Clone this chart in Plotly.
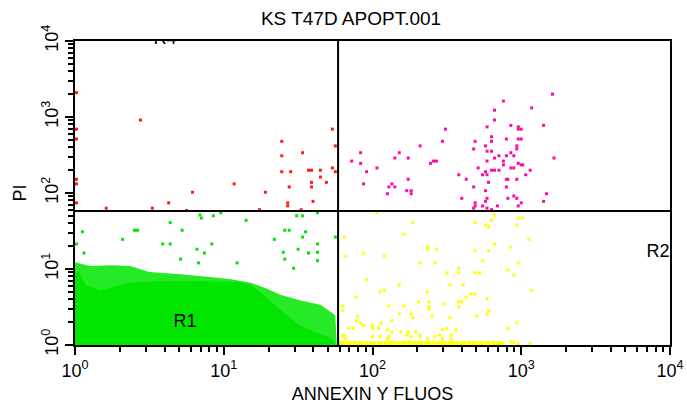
import numpy as np
import plotly.graph_objects as go

# ---- data (in decades: value = 10**d) ----
title_text = "KS T47D APOPT.001"
x_title = "ANNEXIN Y FLUOS"
y_title = "PI"
tick_vals = [1, 10, 100, 1000, 10000]
tick_text = ["10<sup>0</sup>", "10<sup>1</sup>", "10<sup>2</sup>", "10<sup>3</sup>", "10<sup>4</sup>"]
minor_vals = [m * d for d in (1, 10, 100, 1000) for m in range(2, 10)]

gate_annexin = 58.7
gate_pi = 57.9

# dense green population outline (R1), decades
dense_x = [0, 0, 0.03, 0.07, 0.17, 0.30, 0.37, 0.57, 0.84, 1.11, 1.18, 1.24, 1.31, 1.38, 1.45, 1.51, 1.61, 1.72, 1.75, 1.75]
dense_y = [0, 0.96, 0.96, 0.79, 0.72, 0.79, 0.82, 0.84, 0.84, 0.83, 0.79, 0.70, 0.59, 0.46, 0.36, 0.26, 0.17, 0.09, 0.03, 0]
# sparser fringe around it
fringe_x = [0, 0, 0.10, 0.24, 0.37, 0.50, 0.71, 0.84, 1.04, 1.18, 1.28, 1.38, 1.51, 1.65, 1.75, 1.76]
fringe_y = [0, 1.09, 1.04, 1.05, 1.04, 0.96, 0.93, 0.91, 0.87, 0.82, 0.75, 0.66, 0.59, 0.53, 0.39, 0]

green_x = [0.05, 0.01, 0.06, 0.40, 0.42, 0.32, 0.64, 0.72, 0.59, 0.64, 0.85, 1.15, 0.82, 0.87, 0.71, 0.83, 1.09, 0.92,
           1.34, 1.41, 1.44, 1.55, 1.53, 1.50, 1.40, 1.41, 1.63, 1.63, 1.63, 1.47, 1.57, 1.75, 0.98, 0.84, 0.93, 1.49, 1.53, 1.63]
green_y = [1.49, 1.33, 1.21, 1.51, 1.51, 1.39, 1.61, 1.51, 1.33, 1.33, 1.67, 1.64, 1.26, 1.21, 1.13, 1.08, 1.08, 1.33,
           1.39, 1.51, 1.51, 1.49, 1.42, 1.26, 1.22, 1.13, 1.33, 1.22, 1.11, 1.01, 1.21, 1.42, 1.74, 1.71, 1.70, 1.70, 1.70, 1.74]

red_x = [0.01, 0.44, 0.01, 0.01, 1.73, 1.75, 1.39, 1.53, 1.39, 1.39, 1.45, 1.57, 1.59, 1.65, 1.73, 1.75, 1.65, 1.69,
         1.59, 1.59, 1.44, 1.28, 1.07, 0.79, 0.63, 0.52, 0.21, 0.01, 0.01, 0.01, 1.43, 1.43, 1.60, 1.52, 1.24, 0.75]
red_y = [3.32, 2.96, 2.84, 2.71, 2.84, 2.62, 2.68, 2.53, 2.49, 2.28, 2.28, 2.30, 2.30, 2.30, 2.33, 2.28, 2.21, 2.14,
         2.14, 2.08, 2.08, 2.01, 2.12, 2.01, 1.87, 1.80, 1.80, 2.18, 2.12, 1.87, 1.87, 1.83, 1.89, 1.78, 1.78, 1.77]

mag_x = [3.21, 2.88, 3.07, 2.82, 2.82, 3.15, 2.93, 2.98, 3.00, 2.98, 2.77, 2.49, 2.90, 2.98, 3.00, 2.80, 2.80, 2.69,
         2.47, 2.97, 2.97, 2.76, 2.68, 2.77, 2.80, 2.32, 2.18, 1.92, 2.93, 2.95, 2.85, 2.90, 2.82, 2.77, 2.88, 2.24,
         2.15, 1.86, 1.92, 2.41, 2.43, 2.39, 2.98, 3.00, 3.01, 3.22, 2.88, 2.71, 2.93, 2.95, 2.03, 1.96, 2.80, 2.82,
         2.85, 3.06, 2.76, 2.74, 2.77, 2.58, 3.03, 2.63, 2.90, 2.91, 2.97, 2.78, 2.24, 1.94, 2.13, 2.11, 2.15, 2.68,
         2.90, 2.23, 2.26, 2.26, 2.10, 2.76, 3.17, 2.95, 2.97, 2.91, 2.76, 2.77, 2.60, 3.15, 3.00, 2.98, 2.69, 2.69,
         2.68, 2.74, 2.77, 2.84, 2.80]
mag_y = [3.30, 3.21, 3.12, 3.09, 2.96, 2.89, 2.89, 2.87, 2.84, 2.84, 2.87, 2.84, 2.71, 2.71, 2.71, 2.74, 2.68, 2.68,
         2.68, 2.62, 2.58, 2.62, 2.58, 2.55, 2.55, 2.62, 2.53, 2.53, 2.53, 2.49, 2.49, 2.49, 2.46, 2.42, 2.42, 2.46,
         2.46, 2.42, 2.39, 2.42, 2.42, 2.39, 2.39, 2.37, 2.37, 2.46, 2.37, 2.33, 2.33, 2.33, 2.33, 2.28, 2.30, 2.30,
         2.30, 2.30, 2.28, 2.24, 2.24, 2.24, 2.24, 2.18, 2.18, 2.18, 2.18, 2.14, 2.18, 2.12, 2.12, 2.08, 2.08, 2.08,
         2.08, 2.03, 2.03, 1.99, 1.99, 2.03, 1.99, 1.96, 1.93, 1.93, 1.89, 1.93, 1.93, 1.89, 1.87, 1.83, 1.87, 1.83,
         1.80, 1.83, 1.80, 1.83, 1.78]

yel_x = [2.03, 2.27, 2.69, 2.76, 2.78, 2.80, 2.82, 2.98, 3.01, 2.97, 2.21, 1.81, 3.05, 2.82, 2.93, 2.37, 2.37, 2.43,
         1.94, 2.08, 1.82, 2.69, 2.78, 2.74, 2.32, 2.42, 2.98, 2.58, 2.58, 2.50, 2.69, 2.72, 2.91, 2.95, 1.96, 2.18,
         2.52, 2.61, 2.05, 2.08, 2.37, 3.07, 1.89, 2.66, 2.69, 2.63, 2.77, 2.31, 2.38, 2.38, 2.38, 2.58, 2.60, 2.58,
         2.48, 2.11, 2.21, 1.80, 1.80, 2.18, 2.26, 2.77, 2.78, 2.70, 1.90, 2.40, 2.27, 2.52, 1.89, 1.92, 1.94, 2.13,
         2.06, 2.97, 1.84, 1.87, 2.00, 2.00, 2.04, 2.50, 2.47, 2.91, 2.56, 2.10, 2.13, 2.19, 2.23, 2.24, 2.26, 2.29,
         2.32, 2.32, 2.42, 2.45, 2.47, 2.53, 2.53, 2.00, 2.05, 2.11, 2.10, 1.80, 1.81, 1.82, 2.37, 2.14, 2.21, 2.25,
         2.93, 2.95, 2.98, 3.06, 2.88]
yel_y = [1.74, 1.61, 1.61, 1.58, 1.55, 1.64, 1.71, 1.67, 1.67, 1.58, 1.46, 1.42, 1.39, 1.33, 1.29, 1.29, 1.26, 1.26,
         1.21, 1.17, 1.17, 1.24, 1.24, 1.11, 1.08, 1.08, 1.08, 1.01, 0.95, 0.95, 0.95, 0.95, 0.99, 0.92, 0.86, 0.79,
         0.79, 0.79, 0.70, 0.72, 0.70, 0.72, 0.63, 0.67, 0.67, 0.63, 0.61, 0.57, 0.57, 0.50, 0.47, 0.57, 0.57, 0.50,
         0.54, 0.51, 0.51, 0.51, 0.45, 0.41, 0.41, 0.41, 0.45, 0.38, 0.38, 0.38, 0.36, 0.36, 0.32, 0.29, 0.26, 0.32,
         0.29, 0.29, 0.22, 0.22, 0.26, 0.22, 0.22, 0.22, 0.20, 0.22, 0.20, 0.20, 0.17, 0.17, 0.13, 0.17, 0.11, 0.17,
         0.13, 0.11, 0.11, 0.13, 0.08, 0.13, 0.08, 0.11, 0.11, 0.11, 0.08, 0.13, 0.11, 0.08, 0.08, 0.04, 0.04, 0.04,
         0.04, 0.03, 0.02, 0.02, 0.02]
# events piled on the PI floor channel
floor_x = [1.78, 1.80, 1.83, 1.85, 1.88, 1.91, 1.93, 1.96, 1.99, 2.01, 2.04, 2.06, 2.09, 2.12, 2.14, 2.17, 2.20,
           2.22, 2.25, 2.28, 2.30, 2.33, 2.36, 2.38, 2.41, 2.44, 2.46, 2.49, 2.52, 2.54, 2.57, 2.60, 2.62, 2.65,
           2.68, 2.70, 2.73, 2.76, 2.78, 2.81, 2.84, 2.86]
floor_y = [0.025] * len(floor_x)

label_text = ["R4", "R1", "R2"]
label_x = [0.605, 0.74, 3.92]
label_y = [4.02, 0.30, 1.22]

GREEN = "#00e600"
YELLOW = "#ffff00"
RED = "#ff1a1a"
MAGENTA = "#ff0aa5"
FONT = "Liberation Sans, Arial"


def dec(v):
    return np.power(10.0, np.asarray(v, dtype=float))


fig = go.Figure()
fig.add_trace(go.Scatter(x=dec(fringe_x), y=dec(fringe_y), mode="lines", fill="toself",
                         fillcolor="rgba(0,230,0,0.85)", line=dict(width=0), hoverinfo="skip"))
fig.add_trace(go.Scatter(x=dec(dense_x), y=dec(dense_y), mode="lines", fill="toself",
                         fillcolor=GREEN, line=dict(width=0), hoverinfo="skip"))


def dots(xs, ys, color, size=3):
    fig.add_trace(go.Scatter(x=dec(xs), y=dec(ys), mode="markers",
                             marker=dict(size=size, color=color, symbol="square", line=dict(width=0))))


dots(green_x, green_y, GREEN)
dots(yel_x, yel_y, YELLOW)
dots(floor_x, floor_y, YELLOW, size=4)
dots(red_x, red_y, RED)
dots(mag_x, mag_y, MAGENTA)

# quadrant gate lines
fig.add_trace(go.Scatter(x=[gate_annexin, gate_annexin], y=[1, 10000], mode="lines",
                         line=dict(color="black", width=2)))
fig.add_trace(go.Scatter(x=[1, 10000], y=[gate_pi, gate_pi], mode="lines",
                         line=dict(color="black", width=2)))

fig.add_trace(go.Scatter(x=dec(label_x), y=dec(label_y), mode="text", text=label_text,
                         textfont=dict(family=FONT, size=18, color="black"),
                         cliponaxis=True, textposition="middle center"))

axis_common = dict(
    type="log", range=[0, 4], showgrid=False, zeroline=False, automargin=False,
    showline=True, linecolor="black", linewidth=2, mirror=True,
    ticks="outside", ticklen=8, tickwidth=2, tickcolor="black",
    tickmode="array", tickvals=tick_vals, ticktext=tick_text,
    tickfont=dict(family=FONT, size=18, color="black"),
    minor=dict(tickmode="array", tickvals=minor_vals, ticks="outside", ticklen=5,
               tickwidth=2, tickcolor="black", showgrid=False),
)

fig.update_layout(
    width=687, height=409,
    margin=dict(l=75, r=17, t=41, b=64),
    paper_bgcolor="white", plot_bgcolor="white",
    showlegend=False,
    title=dict(text=title_text, x=351 / 687, xref="container", xanchor="center",
               y=1 - 18 / 409, yref="container", yanchor="middle",
               font=dict(family=FONT, size=19, color="black")),
    xaxis=dict(**axis_common,
               title=dict(text=x_title, standoff=8,
                          font=dict(family=FONT, size=18, color="black"))),
    yaxis=dict(**axis_common, tickangle=-90,
               title=dict(text=y_title, standoff=8,
                          font=dict(family=FONT, size=18, color="black"))),
)

fig.write_html("out.html")
